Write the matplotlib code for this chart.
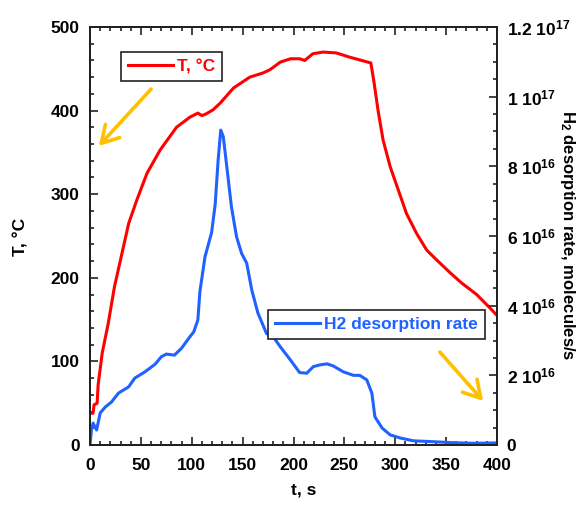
import matplotlib
matplotlib.use('Agg')
import matplotlib.pyplot as plt
import numpy as np
from matplotlib.ticker import MultipleLocator, FixedLocator, FixedFormatter

plt.rcParams['font.family'] = ['Liberation Sans', 'DejaVu Sans']
plt.rcParams['font.weight'] = 'bold'
plt.rcParams['mathtext.fontset'] = 'custom'
plt.rcParams['mathtext.rm'] = 'Liberation Sans:bold'
plt.rcParams['mathtext.it'] = 'Liberation Sans:bold'
plt.rcParams['mathtext.bf'] = 'Liberation Sans:bold'
plt.rcParams['mathtext.default'] = 'rm'

# Temperature curve (t in s, T in degC)
t_T = [0, 3, 4, 7, 8, 12, 18, 24, 31, 38, 46, 56, 69, 85, 98, 106, 110, 114, 121, 128,
       141, 157, 170, 177, 187, 197, 206, 211, 219, 229, 242, 255, 276, 279, 283, 288,
       295, 303, 311, 321, 331, 341, 354, 365, 380, 393, 400]
T_vals = [38, 38, 48, 50, 72, 110, 146, 189, 227, 265, 293, 325, 353, 380, 392, 397, 394, 396, 401, 409,
          427, 440, 445, 449, 458, 462, 462, 460, 468, 470, 469, 464, 457, 435, 401, 365,
          333, 305, 277, 253, 233, 221, 206, 194, 180, 164, 155]

# H2 desorption rate (units of 1e16 molecules/s)
t_H = [0, 1.5, 3, 6.5, 10, 15, 21, 28, 38, 44, 54, 64, 70, 75, 83, 90, 98, 102, 106, 108,
       113, 119.5, 123, 126, 128.5, 131, 134, 139, 144, 149, 154, 159, 165, 173.5, 180, 187,
       197, 206, 213, 219.5, 226, 233, 239, 249, 259, 265, 272, 277, 280, 287, 295, 305,
       318, 337, 357, 376, 400]
rate_1e16 = [0, 0.45, 0.63, 0.43, 0.92, 1.09, 1.23, 1.49, 1.67, 1.92, 2.1, 2.32, 2.53, 2.61, 2.58, 2.78, 3.1, 3.25, 3.59, 4.4,
             5.4, 6.1, 6.9, 8.2, 9.04, 8.85, 8.1, 6.84, 5.98, 5.5, 5.22, 4.45, 3.79, 3.2, 3.11, 2.82,
             2.44, 2.08, 2.06, 2.25, 2.3, 2.33, 2.27, 2.1, 2.0, 2.0, 1.87, 1.49, 0.81, 0.49, 0.29, 0.2,
             0.12, 0.095, 0.066, 0.05, 0.06]

x_ticks = [0, 50, 100, 150, 200, 250, 300, 350, 400]
T_ticks = [0, 100, 200, 300, 400, 500]
rate_ticks = [0, 2e16, 4e16, 6e16, 8e16, 1e17, 1.2e17]
rate_tick_labels = ['0', '2 10$^{16}$', '4 10$^{16}$', '6 10$^{16}$', '8 10$^{16}$',
                    '1 10$^{17}$', '1.2 10$^{17}$']

RED = '#FF0000'
BLUE = '#1F62FF'
ORANGE = '#FFC000'
FS = 12.5

W, H = 584, 507
fig = plt.figure(figsize=(W/100, H/100), dpi=100)
ax = fig.add_axes([90/W, 1-445/H, (497-90)/W, (445-27)/H])
ax2 = ax.twinx()

lT, = ax.plot(t_T, T_vals, color=RED, lw=2.2, label='T, \u00b0C')
lH, = ax2.plot(t_H, np.array(rate_1e16)*1e16, color=BLUE, lw=2.2, label='H2 desorption rate')

ax.set_xlim(0, 400)
ax.set_ylim(0, 500)
ax2.set_ylim(0, 1.2e17)

ax.xaxis.set_major_locator(FixedLocator(x_ticks))
ax.xaxis.set_minor_locator(MultipleLocator(10))
ax.yaxis.set_major_locator(FixedLocator(T_ticks))
ax.yaxis.set_minor_locator(MultipleLocator(20))
ax2.yaxis.set_major_locator(FixedLocator(rate_ticks))
ax2.yaxis.set_major_formatter(FixedFormatter(rate_tick_labels))
ax2.yaxis.set_minor_locator(MultipleLocator(5e15))

for a in (ax, ax2):
    for s in a.spines.values():
        s.set_linewidth(1.4)
        s.set_color('#222222')
ax.tick_params(axis='both', which='both', direction='in', width=1.2, colors='#222222',
               labelcolor='black', labelsize=FS)
ax.tick_params(axis='x', which='both', top=True)
ax.tick_params(axis='y', which='both', right=False)
ax.tick_params(which='major', length=6)
ax.tick_params(which='minor', length=3)
ax.tick_params(axis='x', pad=9)
ax.tick_params(axis='y', pad=7.5)
ax2.tick_params(axis='y', which='both', direction='in', width=1.2, colors='#222222',
                labelcolor='black', labelsize=FS, pad=7)
ax2.tick_params(which='major', length=6)
ax2.tick_params(which='minor', length=3)

def px(x, y):
    return (x/W, 1-y/H)

fig.text(*px(304, 490), 't, s', fontsize=FS, fontweight='bold', ha='center', va='center')
fig.text(*px(21, 237), 'T, \u00b0C', fontsize=FS, fontweight='bold', ha='center', va='center',
         rotation=90)
fig.text(*px(568, 235), 'H$_2$ desorption rate, molecules/s', fontsize=12, fontweight='bold',
         ha='center', va='center', rotation=270)

common = dict(loc='upper left', bbox_transform=fig.transFigure, borderaxespad=0,
              prop={'weight': 'bold', 'size': FS}, handlelength=2.6, handletextpad=0.25,
              borderpad=0.4, fancybox=False, edgecolor='#222222', framealpha=1,
              labelcolor='linecolor')
leg1 = ax2.legend(handles=[lT], bbox_to_anchor=px(121, 52), **common)
leg1.get_frame().set_linewidth(1.2)
ax2.add_artist(leg1)
leg2 = ax2.legend(handles=[lH], bbox_to_anchor=px(268, 310), **common)
leg2.get_frame().set_linewidth(1.2)

fig.add_artist(matplotlib.patches.FancyArrowPatch(px(153, 87), px(97, 148),
               transform=fig.transFigure, arrowstyle='->,head_length=0.6,head_width=0.35',
               color=ORANGE, lw=2.6, mutation_scale=20))
fig.add_artist(matplotlib.patches.FancyArrowPatch(px(438, 350), px(485, 403),
               transform=fig.transFigure, arrowstyle='->,head_length=0.6,head_width=0.35',
               color=ORANGE, lw=2.6, mutation_scale=20))

fig.savefig('out.png', dpi=100)
